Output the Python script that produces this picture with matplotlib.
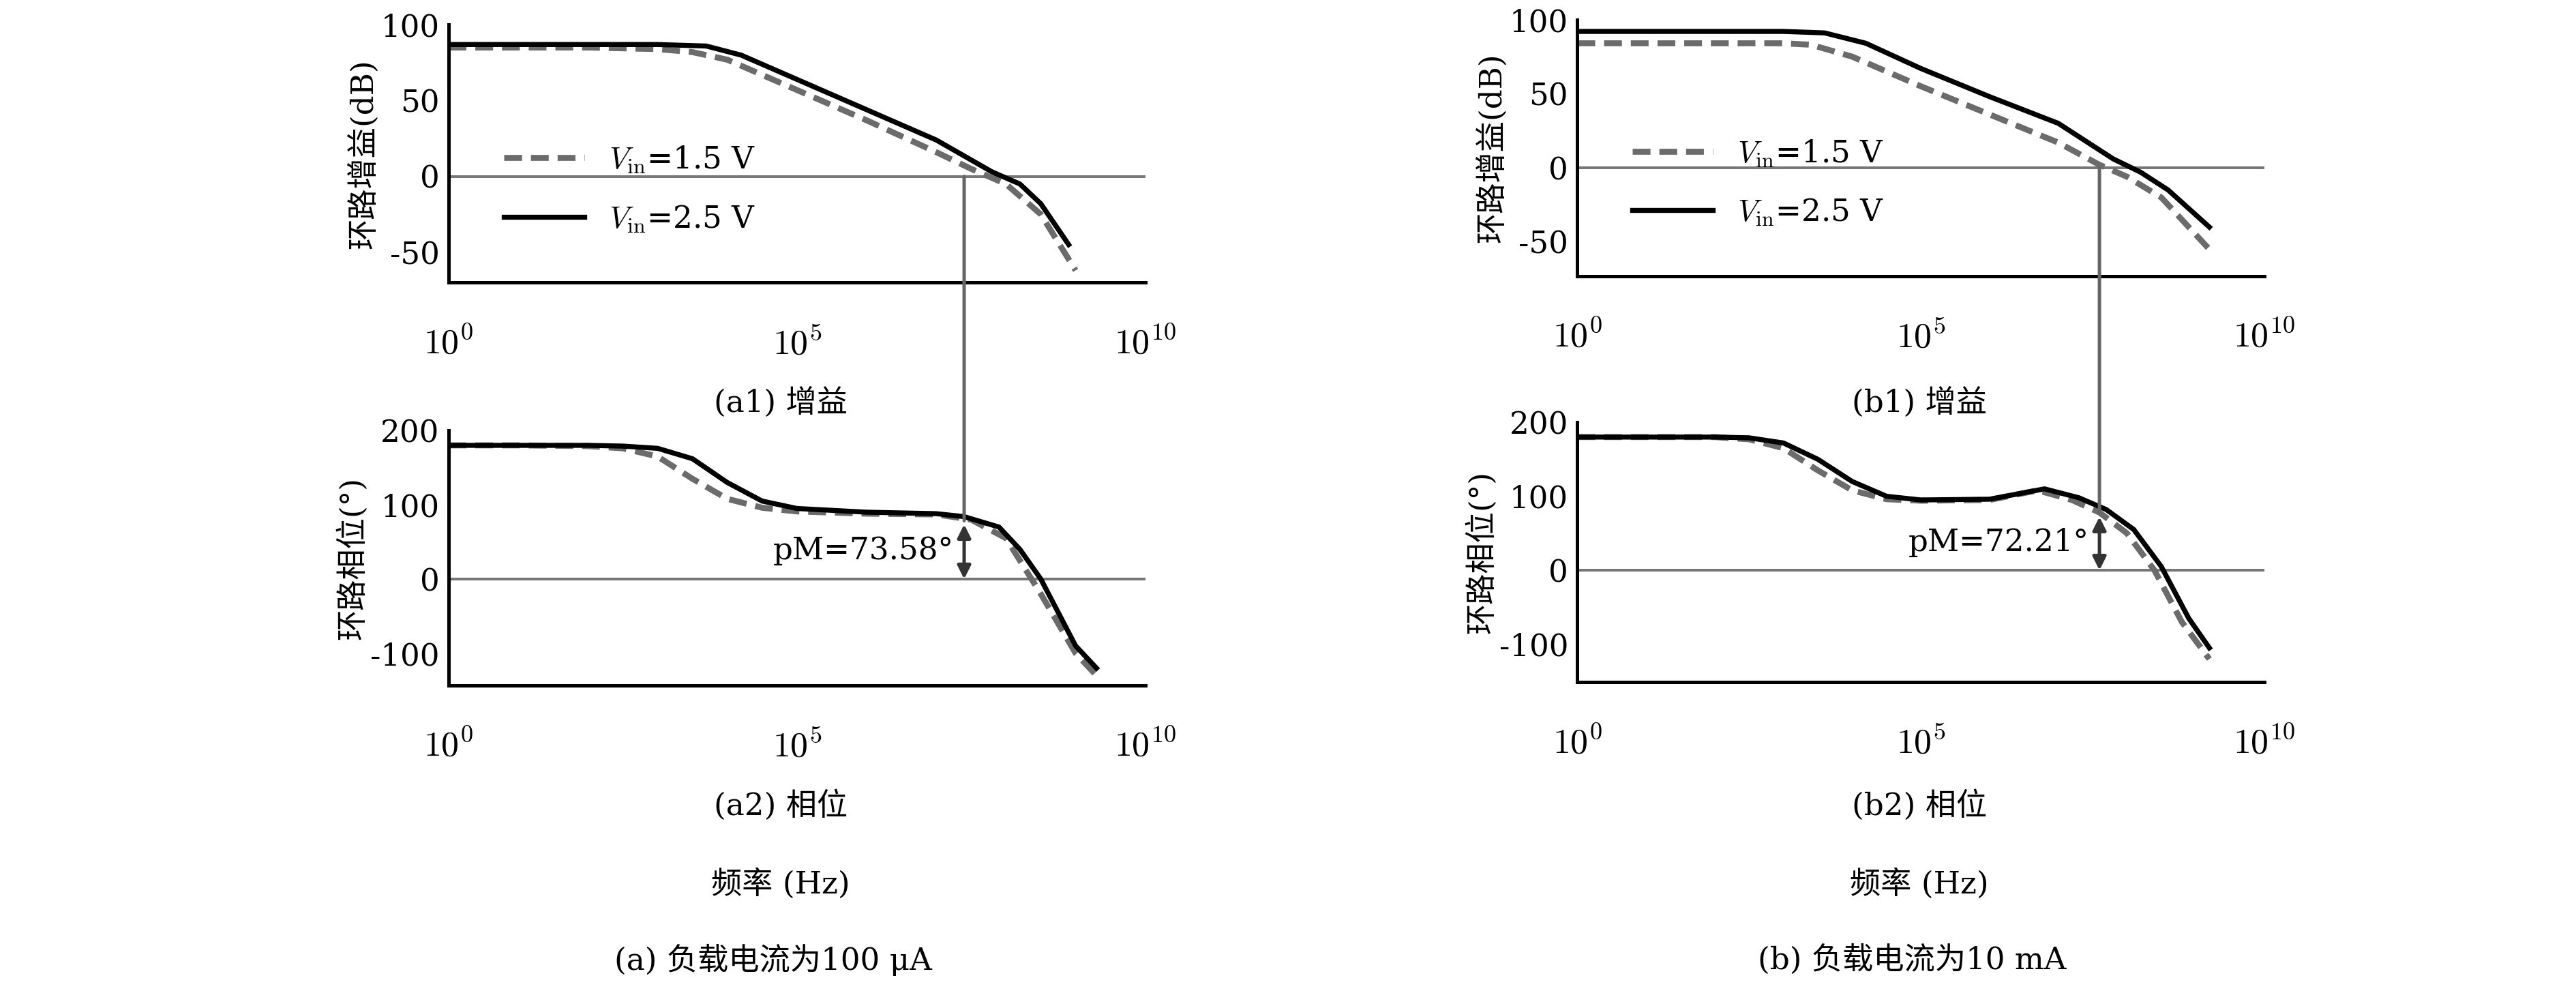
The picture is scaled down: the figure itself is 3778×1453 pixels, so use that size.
import numpy as np
import matplotlib
matplotlib.use("Agg")
import matplotlib.pyplot as plt
from matplotlib.patches import ConnectionPatch

plt.rcParams['font.family'] = ['DejaVu Serif', 'Noto Sans CJK SC']
plt.rcParams['mathtext.fontset'] = 'cm'

# log10 frequency
a_gain_x15 = [0, 1, 2, 3, 3.5, 4, 5, 6, 7, 7.5, 8, 8.5, 9.0]
a_gain_y15 = [85, 85, 85, 84, 82, 77, 57, 37, 16, 5, -5, -25, -62]
a_gain_x25 = [0, 1, 2, 3, 3.7, 4.2, 5, 6, 7, 7.8, 8.2, 8.5, 8.9]
a_gain_y25 = [87, 87, 87, 87, 86, 80, 64, 44, 24, 3, -5, -18, -45]
a_ph_x15 = [0, 1, 2, 2.5, 3, 3.5, 4, 4.5, 5, 6, 7, 7.5, 8, 8.5, 9.0, 9.3]
a_ph_y15 = [180, 180, 179, 176, 165, 135, 108, 96, 91, 88, 87, 80, 55, -20, -100, -130]
a_ph_x25 = [0, 1, 2, 2.5, 3, 3.5, 4, 4.5, 5, 6, 7, 7.4, 7.9, 8.2, 8.5, 9.0, 9.3]
a_ph_y25 = [180, 180, 180, 179, 176, 162, 130, 105, 95, 90, 88, 84, 70, 40, 0, -90, -120]
b_gain_x15 = [0, 1, 2, 3, 3.4, 4, 5, 6, 7, 7.6, 8, 8.5, 9.2]
b_gain_y15 = [84, 84, 84, 84, 83, 75, 55, 36, 17, 2, -6, -20, -55]
b_gain_x25 = [0, 1, 2, 3, 3.6, 4.2, 5, 6, 7, 7.8, 8.2, 8.6, 9.2]
b_gain_y25 = [92, 92, 92, 92, 91, 84, 67, 48, 30, 6, -3, -15, -40]
b_ph_x15 = [0, 1, 2, 2.5, 3, 3.5, 4, 4.5, 5, 6, 6.7, 7.2, 7.6, 8, 8.4, 8.8, 9.2]
b_ph_y15 = [180, 180, 180, 177, 165, 135, 108, 96, 94, 95, 108, 95, 78, 50, 0, -70, -120]
b_ph_x25 = [0, 1, 2, 2.5, 3, 3.5, 4, 4.5, 5, 6, 6.8, 7.3, 7.7, 8.1, 8.5, 8.9, 9.2]
b_ph_y25 = [180, 180, 180, 179, 172, 150, 120, 100, 95, 96, 110, 98, 82, 55, 5, -65, -105]

fig = plt.figure(figsize=(15.68, 6.03), dpi=241)
FS = 13.5
dash_c = '#6b6b6b'
ticks_x = [1e0, 1e5, 1e10]
xlab = [r'$10^{0}$', r'$10^{5}$', r'$10^{10}$']

def setup(ax, ylim, yticks, ylabel):
    ax.set_xscale('log')
    ax.set_xlim(1, 1e10)
    ax.set_ylim(*ylim)
    ax.set_xticks(ticks_x)
    ax.set_xticklabels(xlab, fontsize=FS + 2)
    ax.minorticks_off()
    ax.set_yticks(yticks)
    ax.set_yticklabels([str(v) for v in yticks], fontsize=FS)
    for s in ['top', 'right']:
        ax.spines[s].set_visible(False)
    ax.spines['left'].set_linewidth(1.5)
    ax.spines['bottom'].set_linewidth(1.5)
    ax.tick_params(axis='x', length=0, pad=19)
    ax.tick_params(axis='y', length=0, pad=4)
    ax.axhline(0, color='#777777', lw=1.2)
    ax.set_ylabel(ylabel, fontsize=FS, labelpad=1)

def curves(ax, x1, y1, x2, y2, legend=False):
    ax.plot(10**np.array(x1), y1, ls=(0, (3, 1.5)), color=dash_c, lw=2.6,
            label=r'$V_{\rm in}$=1.5 V')
    ax.plot(10**np.array(x2), y2, color='black', lw=2.2, label=r'$V_{\rm in}$=2.5 V')
    if legend:
        ax.legend(loc='lower left', bbox_to_anchor=(0.04, 0.08), frameon=False,
                  fontsize=FS, handlelength=2.6, labelspacing=0.9)

axes = {}
axes['a1'] = fig.add_axes([0.1741, 0.7148, 0.2704, 0.260])
axes['a2'] = fig.add_axes([0.1741, 0.3085, 0.2704, 0.257])
axes['b1'] = fig.add_axes([0.6122, 0.7214, 0.2666, 0.2587])
axes['b2'] = fig.add_axes([0.6122, 0.3118, 0.2666, 0.262])

setup(axes['a1'], (-70, 100), [-50, 0, 50, 100], '环路增益(dB)')
setup(axes['a2'], (-143, 200), [-100, 0, 100, 200], '环路相位(°)')
setup(axes['b1'], (-73, 100), [-50, 0, 50, 100], '环路增益(dB)')
setup(axes['b2'], (-151, 200), [-100, 0, 100, 200], '环路相位(°)')

curves(axes['a1'], a_gain_x15, a_gain_y15, a_gain_x25, a_gain_y25, True)
curves(axes['a2'], a_ph_x15, a_ph_y15, a_ph_x25, a_ph_y25)
curves(axes['b1'], b_gain_x15, b_gain_y15, b_gain_x25, b_gain_y25, True)
curves(axes['b2'], b_ph_x15, b_ph_y15, b_ph_x25, b_ph_y25)

for top, bot, xf, pm, txt in [('a1', 'a2', 10**7.4, 73.58, 'pM=73.58°'),
                              ('b1', 'b2', 10**7.6, 72.21, 'pM=72.21°')]:
    con = ConnectionPatch(xyA=(xf, 0), coordsA=axes[top].transData,
                          xyB=(xf, pm + 5), coordsB=axes[bot].transData,
                          color='#666666', lw=1.5)
    fig.add_artist(con)
    axes[bot].annotate('', xy=(xf, pm), xytext=(xf, 0),
                       arrowprops=dict(arrowstyle='<|-|>', color='#333333', lw=1.5,
                                       mutation_scale=12, shrinkA=0, shrinkB=0))
    axes[bot].text(xf / 10**0.15, 38, txt, ha='right', va='center', fontsize=FS)

for cx, c1, c2, cap in [(0.303, '(a1) 增益', '(a2) 相位', '(a) 负载电流为100 μA'),
                        (0.745, '(b1) 增益', '(b2) 相位', '(b) 负载电流为10 mA')]:
    fig.text(cx, 1 - 245 / 603, c1, ha='center', va='center', fontsize=FS)
    fig.text(cx, 1 - 490 / 603, c2, ha='center', va='center', fontsize=FS)
    fig.text(cx, 1 - 538 / 603, '频率 (Hz)', ha='center', va='center', fontsize=FS)
    fig.text(cx - 0.003, 1 - 584 / 603, cap, ha='center', va='center', fontsize=FS)

fig.savefig('out.png', dpi=241)
